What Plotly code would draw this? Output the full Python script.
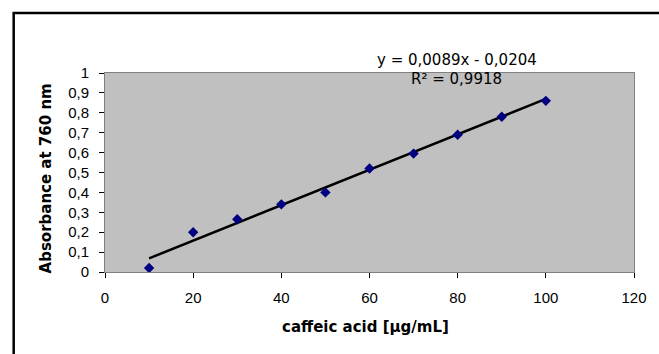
import plotly.graph_objects as go

concentration = [10, 20, 30, 40, 50, 60, 70, 80, 90, 100]
absorbance = [0.02, 0.20, 0.265, 0.34, 0.40, 0.52, 0.595, 0.69, 0.78, 0.86]
slope = 0.0089
intercept = -0.0204
trend_x = [10, 100]
trend_y = [slope * v + intercept for v in trend_x]

x_ticks = [0, 20, 40, 60, 80, 100, 120]
y_ticks = [0, 0.1, 0.2, 0.3, 0.4, 0.5, 0.6, 0.7, 0.8, 0.9, 1]
y_labels = ["0", "0,1", "0,2", "0,3", "0,4", "0,5", "0,6", "0,7", "0,8", "0,9", "1"]

W, H = 659, 354
L, R, T, B = 105, 21, 73, 82
pw, ph = W - L - R, H - T - B

def px(x):
    return (x - L) / pw

def py(y):
    return (H - B - y) / ph

FAM = "DejaVu Sans, Verdana, sans-serif"
TICKFAM = "Liberation Sans, Arial, sans-serif"
font = dict(family=FAM, size=13, color="black")

fig = go.Figure()
fig.add_trace(go.Scatter(x=trend_x, y=trend_y, mode="lines",
                         line=dict(color="black", width=2.5), showlegend=False))
fig.add_trace(go.Scatter(x=concentration, y=absorbance, mode="markers",
                         marker=dict(symbol="diamond", size=8, color="#000080"),
                         showlegend=False))

fig.update_layout(
    width=W, height=H,
    margin=dict(l=L, r=R, t=T, b=B),
    paper_bgcolor="white", plot_bgcolor="#C0C0C0",
    font=font,
    xaxis=dict(range=[0, 120], tickvals=x_ticks, ticks="outside", ticklen=5,
               tickcolor="black", showgrid=False, zeroline=False, showline=True,
               linecolor="#808080", linewidth=1, mirror=True, ticklabelstandoff=7,
               tickfont=dict(family=TICKFAM, size=15)),
    yaxis=dict(range=[0, 1], tickvals=y_ticks, ticktext=y_labels, ticks="outside",
               ticklen=5, tickcolor="black", showgrid=False, zeroline=False,
               showline=True, linecolor="#808080", linewidth=1, mirror=True,
               ticklabelstandoff=7, tickfont=dict(family=TICKFAM, size=15)),
    annotations=[
        dict(text="<b>caffeic acid [µg/mL]</b>", x=px(367), y=py(327), xref="paper",
             yref="paper", showarrow=False, xanchor="center", yanchor="middle",
             font=dict(family=FAM, size=15)),
        dict(text="<b>Absorbance at 760 nm</b>", x=px(46), y=py(178), xref="paper",
             yref="paper", showarrow=False, textangle=-90, xanchor="center",
             yanchor="middle", font=dict(family=FAM, size=15)),
        dict(text="y = 0,0089x - 0,0204", x=px(460), y=py(60), xref="paper",
             yref="paper", showarrow=False, xanchor="center", yanchor="middle",
             font=dict(family=FAM, size=15)),
        dict(text="R² = 0,9918", x=px(459), y=py(79), xref="paper",
             yref="paper", showarrow=False, xanchor="center", yanchor="middle",
             font=dict(family=FAM, size=15)),
    ],
    shapes=[
        dict(type="rect", xref="paper", yref="paper", x0=px(13), x1=px(680),
             y0=py(380), y1=py(13), line=dict(color="black", width=2.5),
             layer="below"),
    ],
)

fig.write_html("out.html")
